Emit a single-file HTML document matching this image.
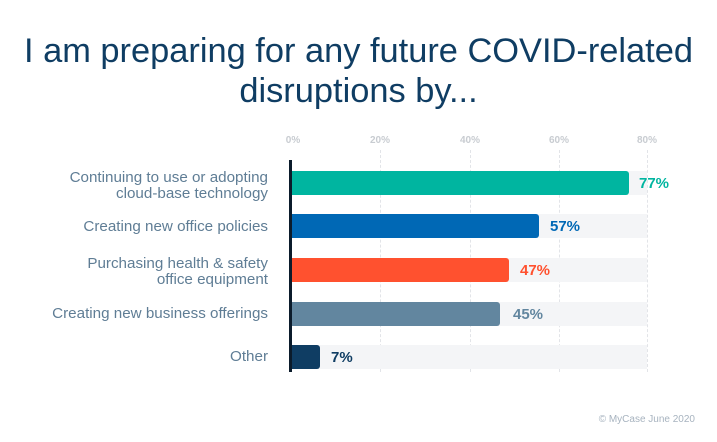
<!DOCTYPE html>
<html><head><style>
body{margin:0;width:717px;height:442px;background:#fff;font-family:"Liberation Sans",sans-serif;position:relative;overflow:hidden}
.t{position:absolute;left:0;width:717px;text-align:center;color:#0f3d63;font-size:34.4px;line-height:40px;top:31px}
.tick{position:absolute;top:135px;font-size:10px;color:#c8ccd1;font-weight:bold;transform:translateX(-50%)}
.grid{position:absolute;top:150px;height:222px;border-left:1px dashed #e2e4e8}
.track{position:absolute;left:291px;width:356px;height:24px;background:#f4f5f7}
.bar{position:absolute;left:291px;height:24px;border-radius:0 3px 3px 0}
.v{position:absolute;font-weight:bold;font-size:15px;line-height:24px;top:1px}
.lab{position:absolute;right:449px;text-align:right;color:#5f7d95;font-size:15.2px;line-height:16px}
.axis{position:absolute;left:289px;top:160px;width:3px;height:212px;background:#0b1b2b}
.c{position:absolute;right:22px;top:414px;font-size:10px;color:#a7b3bf}
</style></head><body>
<div class="t">I am preparing for any future COVID-related<br>disruptions by...</div>
<div class="tick" style="left:293px">0%</div><div class="tick" style="left:380px">20%</div><div class="tick" style="left:470px">40%</div><div class="tick" style="left:559px">60%</div><div class="tick" style="left:647px">80%</div>
<div class="grid" style="left:380px"></div><div class="grid" style="left:470px"></div><div class="grid" style="left:559px"></div><div class="grid" style="left:647px"></div>
<div class="track" style="top:171px"></div><div class="track" style="top:214px"></div><div class="track" style="top:258px"></div><div class="track" style="top:302px"></div><div class="track" style="top:345px"></div>
<div class="bar" style="top:171px;width:338px;background:#00b5a0"></div><div class="v" style="top:172px;left:639px;color:#00b5a0">77%</div>
<div class="bar" style="top:214px;width:248px;background:#0068b5"></div><div class="v" style="top:215px;left:550px;color:#0068b5">57%</div>
<div class="bar" style="top:258px;width:218px;background:#ff512f"></div><div class="v" style="top:259px;left:520px;color:#ff512f">47%</div>
<div class="bar" style="top:302px;width:209px;background:#62869f"></div><div class="v" style="top:303px;left:513px;color:#62869f">45%</div>
<div class="bar" style="top:345px;width:29px;background:#0f3d63"></div><div class="v" style="top:346px;left:331px;color:#0f3d63">7%</div>
<div class="axis"></div>
<div class="lab" style="top:170px">Continuing to use or adopting<br>cloud-base technology</div>
<div class="lab" style="top:219px">Creating new office policies</div>
<div class="lab" style="top:256px">Purchasing health &amp; safety<br>office equipment</div>
<div class="lab" style="top:306px">Creating new business offerings</div>
<div class="lab" style="top:349px">Other</div>
<div class="c">© MyCase June 2020</div>
</body></html>
